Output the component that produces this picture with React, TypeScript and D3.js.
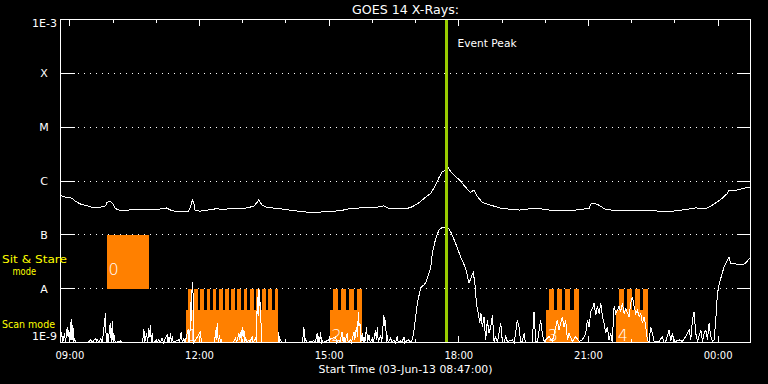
import React from "react";
import * as d3 from "d3";

// ---------- data ----------
const startTime = new Date(2013, 5, 3, 8, 47, 0);
const endTime = new Date(2013, 5, 4, 0, 45, 0);
const chartTitle = "GOES 14 X-Rays:";
const xAxisTitle = "Start Time (03-Jun-13 08:47:00)";

const classLabels = ["1E-3", "X", "M", "C", "B", "A", "1E-9"];
const classFlux = [1e-3, 1e-4, 1e-5, 1e-6, 1e-7, 1e-8, 1e-9];

const xTickLabels = ["09:00", "12:00", "15:00", "18:00", "21:00", "00:00"];
const xTickMinutes = [13, 193, 373, 553, 733, 913]; // minutes after start time
const hourTickMinutes = [13, 73, 133, 193, 253, 313, 373, 433, 493, 553, 613, 673, 733, 793, 853, 913];

const eventPeakMinute = 536;
const eventPeakLabel = "Event Peak";

// observing modes (minutes after start)
const modeLabels = ["0", "1", "2", "3", "4"];
const modeKinds = ["stare", "scan", "scan", "scan", "scan"];
const modeStart = [63.9, 173.6, 373.6, 673.6, 770.8];
const modeEnd = [122.2, 302.4, 418.1, 719.4, 815.3];
const modeRasters = [0, 15, 4, 4, 4];
const modeSideLabels = ["Sit & Stare", "mode", "Scan mode"];

// 1-8 Å channel: [minute, log10 flux]
const longChannel: [number, number][] = [
  [0, -6.27], [7, -6.3], [16, -6.32], [21, -6.38], [28, -6.43], [37, -6.46], [46, -6.5], [55, -6.5],
  [57, -6.48], [63, -6.46], [64, -6.4], [69, -6.37], [73, -6.43], [76, -6.51], [81, -6.54], [93, -6.54],
  [111, -6.53], [130, -6.53], [139, -6.52], [147, -6.5], [153, -6.54], [160, -6.57], [171, -6.57],
  [178, -6.56], [181, -6.46], [183, -6.35], [185, -6.41], [187, -6.55], [194, -6.56], [204, -6.54],
  [213, -6.53], [216, -6.5], [222, -6.53], [241, -6.51], [255, -6.51], [268, -6.47], [273, -6.4],
  [275, -6.35], [280, -6.45], [287, -6.49], [301, -6.51], [324, -6.55], [343, -6.58], [357, -6.58],
  [370, -6.57], [389, -6.55], [403, -6.51], [417, -6.5], [435, -6.5], [449, -6.46], [454, -6.5],
  [463, -6.52], [479, -6.52], [488, -6.48], [498, -6.4], [507, -6.3], [514, -6.23], [521, -6.07],
  [525, -5.95], [530, -5.83], [534, -5.8], [537, -5.73], [542, -5.83], [549, -5.92], [556, -6.01],
  [562, -6.11], [569, -6.21], [574, -6.17], [579, -6.29], [586, -6.4], [600, -6.46], [613, -6.51],
  [637, -6.54], [655, -6.51], [664, -6.51], [683, -6.55], [697, -6.54], [715, -6.54], [734, -6.51],
  [737, -6.41], [745, -6.43], [757, -6.53], [775, -6.55], [794, -6.54], [813, -6.54], [831, -6.56],
  [850, -6.56], [868, -6.53], [882, -6.5], [896, -6.51], [905, -6.45], [917, -6.34], [926, -6.23],
  [928, -6.18], [938, -6.17], [947, -6.14], [958, -6.11],
];

// 0.5-4 Å channel: [minute, log10 flux]
const shortChannel: [number, number][] = [
  [0, -9.05], [1.4, -8.8], [3, -9.05], [5.6, -8.83], [7, -9.0], [9.3, -8.71], [10.5, -8.9], [11.6, -8.77],
  [13, -9.05], [14.8, -8.57], [16, -8.95], [17.1, -8.67], [18.5, -9.0], [19.4, -8.92], [21, -9.05],
  [30, -9.05], [38, -9.0], [42, -8.95], [44, -9.05], [49, -8.92], [50, -9.05], [51, -8.95], [53, -9.05],
  [56, -8.92], [58, -9.05], [62.5, -8.46], [63.5, -9.05], [65, -8.83], [66, -9.05], [69, -8.64],
  [70.5, -9.0], [72, -8.61], [73, -9.05], [74, -8.83], [76, -9.05], [83, -8.97], [85, -9.05],
  [114, -9.05], [115.8, -8.75], [117, -9.0], [119.5, -8.83], [121, -9.0], [122.7, -8.74], [124, -8.9],
  [125, -8.67], [126, -9.0], [127.3, -8.83], [128.5, -9.05], [132, -8.97], [134, -9.05], [136.6, -8.95],
  [139, -9.05], [141, -8.92], [143, -9.05], [148, -8.86], [149.3, -9.0], [150.5, -8.89], [151.6, -9.0],
  [152.8, -8.83], [154, -9.0], [155, -8.89], [156.5, -9.05], [164, -8.95], [165, -9.05], [167.6, -8.8],
  [169, -9.05], [171.3, -8.92], [173, -9.05], [177.3, -8.75], [178.5, -9.0], [179.5, -9.05],
  [180.6, -8.25], [181.5, -8.6], [182.9, -7.87], [184.3, -8.15], [185.2, -9.05], [194.5, -8.8],
  [195.5, -9.05], [214, -9.05], [215.3, -8.77], [216.5, -8.95], [217.6, -8.64], [219, -9.0],
  [220.9, -8.86], [222, -9.05], [223.2, -8.95], [224.5, -9.05], [240, -9.0], [243, -8.92], [244.5, -9.05],
  [247.7, -8.83], [249, -8.95], [250, -8.8], [251, -9.0], [252.3, -8.71], [253.5, -8.9], [254.7, -8.77],
  [256, -9.05], [257, -8.89], [258.5, -9.05], [261.6, -8.95], [263, -9.05], [266, -8.89], [267.5, -9.05],
  [270.9, -8.92], [272, -9.05], [273.2, -8.15], [274.3, -8.5], [275.5, -7.99], [276.5, -8.3],
  [277.8, -8.27], [279, -9.05], [302, -9.05], [303, -8.8], [304, -9.0], [305.6, -8.95], [307, -9.05],
  [336, -9.05], [338, -8.71], [339, -9.0], [340.3, -8.92], [341.5, -9.05], [352, -8.97], [353.5, -9.05],
  [356.5, -8.83], [357.5, -9.0], [358.8, -8.89], [360, -9.0], [361, -8.8], [362.5, -9.05], [363.5, -8.97],
  [365, -9.05], [382, -8.89], [383.5, -9.05], [386.6, -8.95], [388, -9.05], [391, -8.8], [392.5, -9.0],
  [393.5, -8.89], [395, -9.05], [398, -8.83], [399.5, -9.05], [402.8, -8.95], [404, -9.05], [407.4, -8.8],
  [408.5, -8.95], [411, -8.71], [412.3, -8.9], [413.5, -8.43], [414.5, -8.7], [415.8, -8.64], [417, -9.0],
  [419, -8.83], [420.3, -9.05], [421.3, -8.89], [422.5, -9.05], [425, -8.71], [426.3, -9.0],
  [428.3, -8.86], [430, -9.05], [433, -8.92], [434.5, -9.05], [437.5, -8.77], [438.5, -8.95], [440, -8.71],
  [441.2, -9.05], [444.5, -8.86], [446, -9.05], [449, -8.49], [450.2, -8.7], [451.4, -8.58], [452.5, -9.0],
  [453.7, -8.86], [455, -9.05], [458.4, -8.92], [460, -9.05], [463, -8.95], [465, -9.05], [467.6, -8.89],
  [469, -9.05], [472.3, -8.97], [474, -9.05], [477, -8.89], [478, -9.05],
  [479.2, -8.98], [483.8, -8.95], [486, -9.05], [488.5, -8.95], [490.8, -8.77], [495.4, -8.27],
  [500, -7.99], [502.4, -7.95], [504.7, -7.93], [507, -7.89], [509.3, -7.81], [513.9, -7.62],
  [516.2, -7.34], [520.9, -7.07], [525.5, -6.91], [530.1, -6.86], [537, -6.85], [541.7, -6.94],
  [548.6, -7.16], [555.6, -7.41], [562.5, -7.62], [567.2, -7.9], [570.4, -7.78], [573.2, -7.7],
  [575.5, -7.93], [577.4, -8.27], [580.1, -8.46], [582, -8.64], [583.8, -8.46], [585.7, -8.71],
  [588, -8.52], [590.3, -8.95], [592.6, -8.58], [594.9, -8.83], [597.3, -8.71], [599.6, -8.49],
  [601.9, -8.98], [604.2, -8.89], [606.5, -9.05], [608.8, -8.83], [611.2, -8.64], [613.5, -8.98],
  [616, -9.05], [618.1, -8.89], [620.4, -8.98], [627.4, -8.95], [630, -9.05], [634.3, -8.58],
  [636.6, -8.71], [638.9, -8.98], [641, -9.05], [643.6, -8.83], [645.5, -9.05], [655, -9.05],
  [657.4, -8.43], [659.8, -8.98], [662, -9.05], [666.7, -8.58], [669, -8.83], [671.3, -8.98],
  [678.3, -8.89], [682.9, -8.98], [689.9, -8.58], [692.2, -8.77], [696.8, -8.52], [699.1, -8.71],
  [701.4, -8.58], [703.8, -8.95], [706.1, -8.83], [710.7, -8.98], [715.3, -8.89], [720, -8.98],
  [724.6, -8.95], [729.2, -8.83], [731.5, -8.58], [733.9, -8.71], [736.2, -8.43], [738.5, -8.37],
  [740.8, -8.27], [743.1, -8.49], [745.4, -8.33], [747.7, -8.46], [750.1, -8.27], [752.4, -8.52],
  [754.7, -8.64], [757, -8.83], [759.3, -8.71], [761.6, -8.95], [763.9, -8.83], [766, -9.05],
  [768.6, -8.33], [770.9, -8.46], [775.5, -8.33], [777.8, -8.43], [780.2, -8.27], [782.5, -8.46],
  [784.8, -8.37], [789.4, -8.52], [791.7, -8.27], [794, -8.15], [796.4, -8.33], [798.7, -8.46],
  [801, -8.4], [803.3, -8.52], [805.6, -8.46], [807.9, -8.64], [810.3, -8.52], [812.6, -8.71],
  [814.9, -8.95], [817, -9.05], [819.5, -8.71], [821.8, -8.83], [824.1, -8.98], [831.1, -8.98],
  [835.7, -8.89], [838, -9.05], [840.3, -8.98], [845, -8.77], [847.3, -8.98], [849.6, -8.83],
  [852, -9.05], [854.2, -8.98], [858.9, -8.95], [863.5, -8.98], [868.1, -8.89], [872.8, -8.77],
  [875.1, -8.95], [877.4, -8.58], [879.7, -8.43], [882, -8.83], [884.3, -8.98], [889, -8.77],
  [891.3, -8.98], [893.6, -8.83], [895.9, -8.77], [898.2, -8.95], [900.5, -8.64], [902.8, -8.89],
  [905.2, -8.98], [907.5, -8.95], [909.8, -8.58], [912.1, -8.09], [914.4, -7.93], [916.7, -7.81],
  [921.4, -7.59], [926, -7.47], [928.3, -7.42], [930.6, -7.53], [937.6, -7.54], [946.8, -7.56],
  [951.5, -7.52], [958.4, -7.41],
];

// ---------- layout ----------
const W = 768;
const H = 384;
const L = 60.5;
const R = 750.5;
const T = 19.5;
const B = 342.5;
const FONT = "DejaVu Sans";
const ORANGE = "#ff8000";
const PEAK = "#99cc00";
const YELLOW = "#ffff00";

const toDate = (m: number) => new Date(startTime.getTime() + m * 60000);

export default function App() {
  const x = d3.scaleTime().domain([startTime, endTime]).range([L, R]);
  const y = d3.scaleLog().domain([1e-9, 1e-3]).range([B, T]).clamp(true);
  const line = d3
    .line<[number, number]>()
    .x((d) => x(toDate(d[0])))
    .y((d) => y(Math.pow(10, d[1])));
  const crisp = (v: number) => Math.round(v - 0.5) + 0.5;

  const scanSolidTop = y(Math.pow(10, -8.4));

  return (
    <svg
      width={W}
      height={H}
      style={{ position: "absolute", left: 0, top: 0, background: "#000" }}
    >
      <rect x={0} y={0} width={W} height={H} fill="#000" />

      {/* gridlines */}
      {classFlux.slice(1, 6).map((f, i) => (
        <line
          key={"g" + i}
          x1={L + 17}
          x2={R - 14}
          y1={crisp(y(f))}
          y2={crisp(y(f))}
          stroke="#fff"
          strokeWidth={1}
          strokeDasharray="1 5"
          shapeRendering="crispEdges"
        />
      ))}

      {/* observing modes */}
      {modeKinds.map((k, i) => {
        const x0 = x(toDate(modeStart[i]));
        const x1 = x(toDate(modeEnd[i]));
        if (k === "stare") {
          return (
            <rect
              key={"m" + i}
              x={x0}
              y={y(1e-7)}
              width={x1 - x0}
              height={y(1e-8) - y(1e-7)}
              fill={ORANGE}
              shapeRendering="crispEdges"
            />
          );
        }
        const n = modeRasters[i];
        const p = (x1 - x0) / n;
        const g = p * 0.4;
        return (
          <g key={"m" + i} shapeRendering="crispEdges">
            <rect x={x0} y={scanSolidTop} width={x1 - x0} height={B - scanSolidTop} fill={ORANGE} />
            {d3.range(n).map((j) => (
              <rect
                key={j}
                x={x0 + j * p + g}
                y={y(1e-8)}
                width={p - g}
                height={scanSolidTop - y(1e-8) + 0.5}
                fill={ORANGE}
              />
            ))}
          </g>
        );
      })}
      {modeKinds.map((k, i) => {
        const x0 = x(toDate(modeStart[i]));
        return (
          <text
            key={"ml" + i}
            x={x0 + 2}
            y={k === "stare" ? y(1e-8) - 14 : B - 2}
            fill="#fff"
            fontFamily={FONT}
            fontWeight={200}
            fontSize={16}
          >
            {modeLabels[i]}
          </text>
        );
      })}

      {/* data */}
      <path d={line(longChannel) || ""} fill="none" stroke="#fff" strokeWidth={1} shapeRendering="crispEdges" />
      <path d={line(shortChannel) || ""} fill="none" stroke="#fff" strokeWidth={1} shapeRendering="crispEdges" />

      {/* event peak */}
      <line
        x1={x(toDate(eventPeakMinute))}
        x2={x(toDate(eventPeakMinute))}
        y1={T}
        y2={B}
        stroke={PEAK}
        strokeWidth={3}
        shapeRendering="crispEdges"
      />
      <text
        x={x(toDate(eventPeakMinute)) + 11}
        y={46.5}
        fill="#fff"
        fontFamily={FONT}
        fontSize={10.5}
        textLength={59}
        lengthAdjust="spacingAndGlyphs"
      >
        {eventPeakLabel}
      </text>

      {/* frame */}
      <rect x={L} y={T} width={R - L} height={B - T} fill="none" stroke="#fff" strokeWidth={1} shapeRendering="crispEdges" />

      {/* y ticks */}
      {classFlux.map((f, i) => (
        <g key={"yt" + i} shapeRendering="crispEdges">
          <line x1={L} x2={L + 14} y1={crisp(y(f))} y2={crisp(y(f))} stroke="#fff" />
          <line x1={R - 14} x2={R} y1={crisp(y(f))} y2={crisp(y(f))} stroke="#fff" />
        </g>
      ))}
      {classLabels.map((lab, i) => {
        const yy = y(classFlux[i]);
        const isNum = lab.length > 1;
        const ty = i === 0 ? yy + 7.5 : i === classLabels.length - 1 ? yy - 2.5 : yy + 4;
        return (
          <text
            key={"yl" + i}
            x={isNum ? 57 : 44}
            y={ty}
            fill="#fff"
            fontFamily={FONT}
            fontSize={11}
            textAnchor={isNum ? "end" : "middle"}
          >
            {lab}
          </text>
        );
      })}

      {/* x ticks */}
      {hourTickMinutes.map((m, i) => {
        const xx = crisp(x(toDate(m)));
        const major = xTickMinutes.indexOf(m) >= 0;
        const len = major ? 6.5 : 3.5;
        return (
          <g key={"xt" + i} shapeRendering="crispEdges">
            <line x1={xx} x2={xx} y1={T} y2={T + len} stroke="#fff" />
            <line x1={xx} x2={xx} y1={B} y2={B - len} stroke="#fff" />
          </g>
        );
      })}
      {xTickLabels.map((lab, i) => (
        <text
          key={"xl" + i}
          x={x(toDate(xTickMinutes[i]))}
          y={358.5}
          fill="#fff"
          fontFamily={FONT}
          fontSize={10}
          textAnchor="middle"
        >
          {lab}
        </text>
      ))}
      <text
        x={(L + R) / 2}
        y={372.5}
        fill="#fff"
        fontFamily={FONT}
        fontSize={10.5}
        textAnchor="middle"
        textLength={174}
        lengthAdjust="spacingAndGlyphs"
      >
        {xAxisTitle}
      </text>

      {/* title */}
      <text
        x={(L + R) / 2}
        y={14}
        fill="#fff"
        fontFamily={FONT}
        fontSize={12}
        textAnchor="middle"
        textLength={107}
        lengthAdjust="spacingAndGlyphs"
      >
        {chartTitle}
      </text>

      {/* mode side labels */}
      <text x={2} y={262.5} fill={YELLOW} fontFamily={FONT} fontSize={10.5} textLength={65} lengthAdjust="spacingAndGlyphs">
        {modeSideLabels[0]}
      </text>
      <text x={12.5} y={275} fill={YELLOW} fontFamily={FONT} fontSize={10.5} textLength={23.5} lengthAdjust="spacingAndGlyphs">
        {modeSideLabels[1]}
      </text>
      <text x={2} y={328} fill={YELLOW} fontFamily={FONT} fontSize={10.5} textLength={53} lengthAdjust="spacingAndGlyphs">
        {modeSideLabels[2]}
      </text>
    </svg>
  );
}
